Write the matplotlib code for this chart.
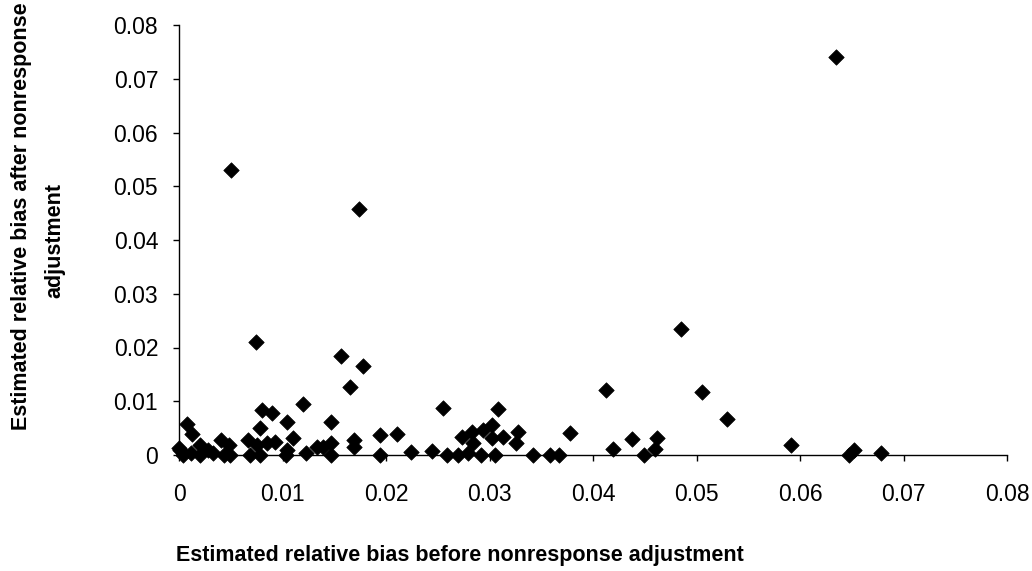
import matplotlib
matplotlib.use("Agg")
import matplotlib.pyplot as plt
from matplotlib.ticker import MultipleLocator, FuncFormatter

plt.rcParams['font.family'] = ['Liberation Sans', 'DejaVu Sans']

bias_before = [
    0.0635, 0.0050, 0.0174, 0.0485, 0.0074, 0.0157, 0.0178, 0.0165, 0.0413, 0.0505,
    0.0120, 0.0255, 0.0308, 0.0529, 0.0591, 0.0647, 0.0652, 0.0678,
    0.0342, 0.0358, 0.0367, 0.0378, 0.0419, 0.0438, 0.0449, 0.0462, 0.0460,
    0.0169, 0.0169, 0.0194, 0.0194, 0.0211, 0.0224, 0.0244, 0.0259, 0.0270, 0.0273,
    0.0279, 0.0283, 0.0284, 0.0294, 0.0302, 0.0292, 0.0305, 0.0302, 0.0313, 0.0328,
    0.0326,
    0.0000, 0.0008, 0.0013, 0.0001, 0.0004, 0.0012, 0.0020, 0.0020, 0.0028, 0.0033,
    0.0041, 0.0048, 0.0043, 0.0049, 0.0067, 0.0078, 0.0080, 0.0090, 0.0069, 0.0075,
    0.0078, 0.0085, 0.0093, 0.0104, 0.0110, 0.0104, 0.0103, 0.0123, 0.0133, 0.0139,
    0.0147, 0.0147, 0.0147,
]
bias_after = [
    0.0740, 0.0530, 0.0458, 0.0234, 0.0211, 0.0185, 0.0165, 0.0127, 0.0121, 0.0117,
    0.0095, 0.0087, 0.0086, 0.0067, 0.0018, 0.0000, 0.0009, 0.0004,
    0.0000, 0.0000, 0.0000, 0.0041, 0.0011, 0.0030, 0.0000, 0.0031, 0.0011,
    0.0027, 0.0014, 0.0038, 0.0000, 0.0039, 0.0006, 0.0008, 0.0000, 0.0000, 0.0034,
    0.0003, 0.0043, 0.0022, 0.0047, 0.0056, 0.0000, 0.0000, 0.0031, 0.0034, 0.0043,
    0.0022,
    0.0013, 0.0058, 0.0039, 0.0009, 0.0000, 0.0003, 0.0019, 0.0000, 0.0009, 0.0004,
    0.0028, 0.0019, 0.0000, 0.0000, 0.0028, 0.0050, 0.0084, 0.0079, 0.0000, 0.0019,
    0.0000, 0.0022, 0.0025, 0.0062, 0.0031, 0.0009, 0.0000, 0.0003, 0.0015, 0.0015,
    0.0062, 0.0022, 0.0000,
]

x_label = "Estimated relative bias before nonresponse adjustment"
y_label_1 = "Estimated relative bias after nonresponse"
y_label_2 = "adjustment"

W, H = 1032, 571
fig = plt.figure(figsize=(W / 100, H / 100), dpi=100)
ax = fig.add_axes([179 / W, 1 - 455 / H, (1007 - 179) / W, (455 - 25) / H])

ax.scatter(bias_before, bias_after, marker='D', s=62, color='black',
           edgecolors='black', linewidths=0.5, clip_on=False, zorder=3)

ax.set_xlim(0, 0.08)
ax.set_ylim(0, 0.08)
ax.xaxis.set_major_locator(MultipleLocator(0.01))
ax.yaxis.set_major_locator(MultipleLocator(0.01))
fmt = FuncFormatter(lambda v, p: "0" if abs(v) < 1e-9 else f"{v:.2f}")
ax.xaxis.set_major_formatter(fmt)
ax.yaxis.set_major_formatter(fmt)

for s in ['top', 'right']:
    ax.spines[s].set_visible(False)
for s in ['left', 'bottom']:
    ax.spines[s].set_linewidth(1.0)
    ax.spines[s].set_color('black')

ax.tick_params(axis='both', direction='out', length=4, width=1.0,
               labelsize=16.5, colors='black')
ax.tick_params(axis='x', pad=16)
ax.tick_params(axis='y', pad=11)

fig.text(460 / W, 1 - 555 / H, x_label, ha='center', va='center',
         fontsize=15.5, fontweight='bold')
fig.text(22 / W, 1 - 216 / H, y_label_1, ha='center', va='center',
         rotation=90, fontsize=15.5, fontweight='bold')
fig.text(55 / W, 1 - 240 / H, y_label_2, ha='center', va='center',
         rotation=90, fontsize=15.5, fontweight='bold')

fig.savefig("out.png", dpi=100)
